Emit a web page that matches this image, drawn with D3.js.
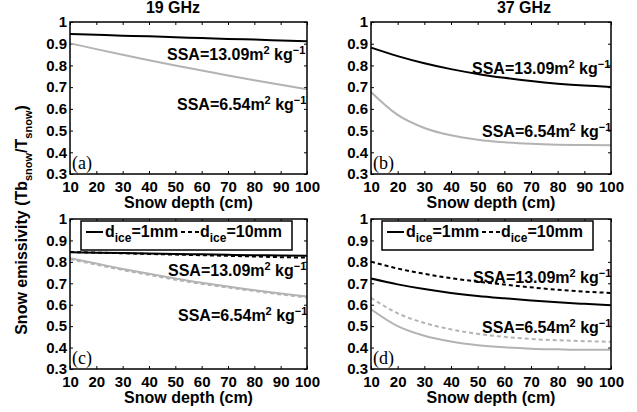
<!DOCTYPE html>
<html>
<head>
<meta charset="utf-8">
<script src="https://cdn.jsdelivr.net/npm/d3@7/dist/d3.min.js"></script>
<style>
  body { margin: 0; background: #fff; }
  svg { display: block; font-family: "Liberation Sans", Arial, sans-serif; font-weight: bold; }
</style>
</head>
<body>
<svg id="chart" width="637" height="412"></svg>
<script>
// snow depth (cm)
const depth = [10, 20, 30, 40, 50, 60, 70, 80, 90, 100];
const xTicks = [10, 20, 30, 40, 50, 60, 70, 80, 90, 100];
const yTicks = [0.3, 0.4, 0.5, 0.6, 0.7, 0.8, 0.9, 1];

// (a) 19 GHz
const a_ssa13 = [0.945, 0.941, 0.937, 0.934, 0.930, 0.926, 0.922, 0.919, 0.915, 0.911];
const a_ssa6  = [0.902, 0.875, 0.849, 0.824, 0.800, 0.777, 0.754, 0.732, 0.711, 0.690];
// (b) 37 GHz
const b_ssa13 = [0.882, 0.843, 0.810, 0.783, 0.761, 0.743, 0.728, 0.716, 0.707, 0.701];
const b_ssa6  = [0.678, 0.572, 0.512, 0.478, 0.458, 0.446, 0.439, 0.435, 0.433, 0.432];
// (c) 19 GHz, d_ice = 1 mm / 10 mm
const c_ssa13_d1  = [0.845, 0.843, 0.841, 0.839, 0.837, 0.835, 0.833, 0.831, 0.830, 0.828];
const c_ssa13_d10 = [0.846, 0.843, 0.840, 0.837, 0.834, 0.831, 0.828, 0.825, 0.822, 0.820];
const c_ssa6_d1   = [0.817, 0.792, 0.767, 0.744, 0.722, 0.702, 0.685, 0.668, 0.652, 0.638];
const c_ssa6_d10  = [0.812, 0.787, 0.762, 0.739, 0.717, 0.697, 0.680, 0.664, 0.648, 0.634];
// (d) 37 GHz, d_ice = 1 mm / 10 mm
const d_ssa13_d1  = [0.722, 0.695, 0.673, 0.655, 0.641, 0.630, 0.620, 0.611, 0.604, 0.598];
const d_ssa13_d10 = [0.801, 0.769, 0.744, 0.724, 0.708, 0.694, 0.681, 0.670, 0.661, 0.655];
const d_ssa6_d1   = [0.579, 0.500, 0.455, 0.428, 0.411, 0.401, 0.395, 0.392, 0.390, 0.390];
const d_ssa6_d10  = [0.632, 0.560, 0.515, 0.485, 0.464, 0.450, 0.440, 0.434, 0.430, 0.427];

const svg = d3.select("#chart");
const gray = "#b3b3b3";

const panels = [
  { box: [70, 307, 22, 174], tag: "(a)", legend: false,
    lines: [[a_ssa13, "#000", null], [a_ssa6, gray, null]],
    ann: [[167, 60], [177, 110]] },
  { box: [371, 611, 22, 174], tag: "(b)", legend: false,
    lines: [[b_ssa13, "#000", null], [b_ssa6, gray, null]],
    ann: [[472, 74], [482, 137]] },
  { box: [70, 307, 219, 369], tag: "(c)", legend: true,
    lines: [[c_ssa6_d10, gray, "4,3"], [c_ssa6_d1, gray, null],
            [c_ssa13_d10, "#000", "4,3"], [c_ssa13_d1, "#000", null]],
    ann: [[168, 276], [178, 321]] },
  { box: [371, 611, 219, 369], tag: "(d)", legend: true,
    lines: [[d_ssa6_d10, gray, "4,3"], [d_ssa6_d1, gray, null],
            [d_ssa13_d10, "#000", "4,3"], [d_ssa13_d1, "#000", null]],
    ann: [[473, 283], [482, 333]] }
];

function ssaText(g, x, y, val) {
  let t = g.append("text").attr("x", x).attr("y", y).style("font-size", "16px");
  t.append("tspan").text("SSA=" + val + "m");
  t.append("tspan").attr("dy", -6).style("font-size", "11px").text("2");
  t.append("tspan").attr("dy", 6).text(" kg");
  t.append("tspan").attr("dy", -6).style("font-size", "11px").text("\u22121");
}

function dIce(g, x, y, val) {
  let t = g.append("text").attr("x", x).attr("y", y).style("font-size", "16px");
  t.append("tspan").text("d");
  t.append("tspan").attr("dy", 5).style("font-size", "12px").text("ice");
  t.append("tspan").attr("dy", -5).text("=" + val);
}

panels.forEach(p => {
  const [x0, x1, y0, y1] = p.box;
  const x = d3.scaleLinear().domain([10, 100]).range([x0, x1]);
  const y = d3.scaleLinear().domain([0.3, 1]).range([y1, y0]);

  // axes with inward ticks
  svg.append("g").attr("transform", "translate(0," + y1 + ")")
    .call(d3.axisBottom(x).tickValues(xTicks).tickSize(-3).tickPadding(7))
    .call(g => g.select(".domain").remove())
    .call(g => g.selectAll("text").style("font-size", "15px").attr("fill", "#000").attr("font-family", null));
  svg.append("g").attr("transform", "translate(" + x0 + ",0)")
    .call(d3.axisLeft(y).tickValues(yTicks).tickSize(-3).tickPadding(3).tickFormat(d3.format("~g")))
    .call(g => g.select(".domain").remove())
    .call(g => g.selectAll("text").style("font-size", "15px").attr("fill", "#000").attr("font-family", null));
  svg.append("g").attr("transform", "translate(0," + y0 + ")")
    .call(d3.axisTop(x).tickValues(xTicks).tickSize(-3).tickFormat(""))
    .call(g => g.select(".domain").remove());
  svg.append("g").attr("transform", "translate(" + x1 + ",0)")
    .call(d3.axisRight(y).tickValues(yTicks).tickSize(-3).tickFormat(""))
    .call(g => g.select(".domain").remove());

  const line = d3.line().x((d, i) => x(depth[i])).y(d => y(d)).curve(d3.curveMonotoneX);
  p.lines.forEach(([vals, col, dash]) => {
    svg.append("path").attr("d", line(vals)).attr("fill", "none")
      .attr("stroke", col).attr("stroke-width", 2)
      .attr("stroke-dasharray", dash);
  });

  svg.append("rect").attr("x", x0).attr("y", y0).attr("width", x1 - x0).attr("height", y1 - y0)
    .attr("fill", "none").attr("stroke", "#000").attr("stroke-width", 1.5);

  ssaText(svg, p.ann[0][0], p.ann[0][1], "13.09");
  ssaText(svg, p.ann[1][0], p.ann[1][1], "6.54");

  svg.append("text").attr("x", x0 + 2).attr("y", y1 - 5)
    .style("font-family", "'Liberation Serif', 'Times New Roman', serif")
    .style("font-weight", "normal").style("font-size", "18px").text(p.tag);

  svg.append("text").attr("x", (x0 + x1) / 2).attr("y", y1 + 34)
    .attr("text-anchor", "middle").style("font-size", "16px").text("Snow depth (cm)");

  if (p.legend) {
    const lx = x0 + 11, ly = y0 + 2;
    svg.append("rect").attr("x", lx).attr("y", ly).attr("width", 211).attr("height", 29)
      .attr("fill", "#fff").attr("stroke", "#000").attr("stroke-width", 1.5);
    svg.append("line").attr("x1", lx + 5).attr("x2", lx + 22).attr("y1", ly + 11).attr("y2", ly + 11)
      .attr("stroke", "#000").attr("stroke-width", 2);
    dIce(svg, lx + 24, ly + 16, "1mm");
    svg.append("line").attr("x1", lx + 100).attr("x2", lx + 118).attr("y1", ly + 11).attr("y2", ly + 11)
      .attr("stroke", "#000").attr("stroke-width", 2).attr("stroke-dasharray", "4,3");
    dIce(svg, lx + 119, ly + 16, "10mm");
  }
});

svg.append("text").attr("x", 173).attr("y", 13).attr("text-anchor", "middle")
  .style("font-size", "16px").text("19 GHz");
svg.append("text").attr("x", 524).attr("y", 13).attr("text-anchor", "middle")
  .style("font-size", "16px").text("37 GHz");

// y label
const yl = svg.append("text").attr("transform", "translate(27,220) rotate(-90)")
  .attr("text-anchor", "middle").style("font-size", "16px");
yl.append("tspan").text("Snow emissivity (Tb");
yl.append("tspan").attr("dy", 5).style("font-size", "11px").text("snow");
yl.append("tspan").attr("dy", -5).text("/T");
yl.append("tspan").attr("dy", 5).style("font-size", "11px").text("snow");
yl.append("tspan").attr("dy", -5).text(")");
</script>
</body>
</html>
